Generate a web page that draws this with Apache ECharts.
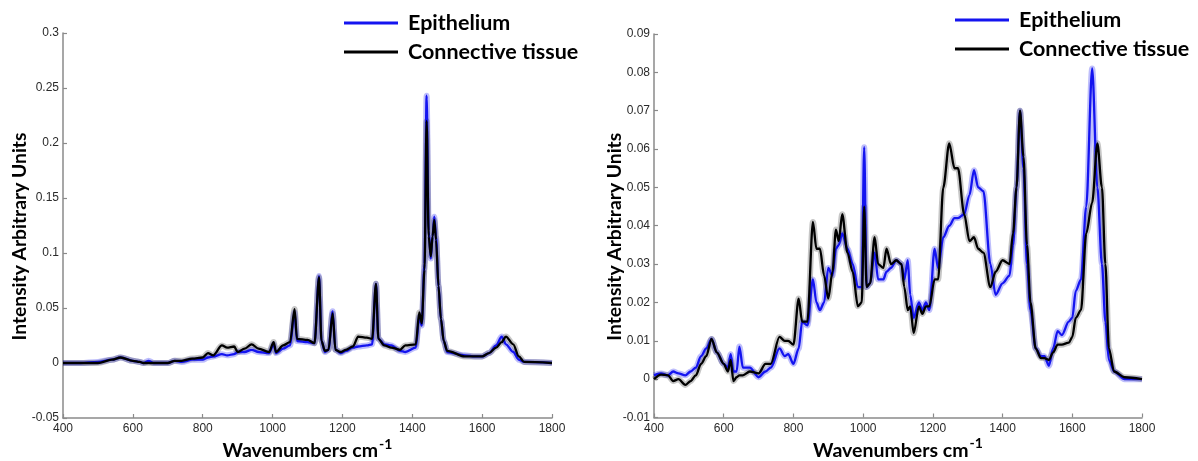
<!DOCTYPE html>
<html>
<head>
<meta charset="utf-8">
<script src="https://cdn.jsdelivr.net/npm/echarts@6/dist/echarts.min.js"></script>
<style>
html,body{margin:0;padding:0;background:#fff;}
#chart{width:1198px;height:461px;}
</style>
</head>
<body>
<div id="chart"></div>
<script>
// ---------- Data (left panel) ----------
var waveL = [400,450,500,540,565,600,620,630,645,660,700,720,740,770,800,815,830,855,870,890,900,920,940,960,990,1003,1010,1030,1050,1063,1070,1100,1120,1133,1140,1150,1160,1172,1180,1195,1210,1230,1245,1270,1285,1296,1303,1320,1340,1365,1380,1410,1420,1427,1435,1441,1447,1453,1458,1463,1468,1475,1482,1490,1500,1550,1580,1600,1620,1640,1656,1668,1689,1705,1720,1800];
var epiL  = [0,0,0.001,0.003,0.005,0.002,0.001,0,0.002,0,0,0.002,0.001,0.003,0.003,0.005,0.006,0.008,0.007,0.008,0.010,0.010,0.012,0.010,0.009,0.017,0.009,0.013,0.016,0.046,0.020,0.019,0.018,0.079,0.020,0.010,0.012,0.047,0.012,0.009,0.011,0.014,0.015,0.016,0.017,0.072,0.022,0.017,0.016,0.011,0.010,0.014,0.042,0.034,0.090,0.243,0.120,0.095,0.115,0.133,0.115,0.070,0.040,0.020,0.010,0.007,0.006,0.006,0.009,0.016,0.024,0.017,0.010,0.003,0.001,0];
var connL = [0,0,0,0.003,0.005,0.002,0.001,0,0,0,0,0.002,0.002,0.004,0.005,0.009,0.007,0.016,0.014,0.015,0.010,0.013,0.017,0.013,0.010,0.019,0.010,0.016,0.019,0.049,0.022,0.021,0.018,0.078,0.020,0.011,0.012,0.045,0.012,0.010,0.012,0.015,0.024,0.023,0.022,0.072,0.022,0.016,0.014,0.012,0.016,0.017,0.046,0.036,0.085,0.220,0.115,0.097,0.115,0.130,0.112,0.070,0.040,0.020,0.011,0.006,0.006,0.006,0.009,0.014,0.019,0.024,0.017,0.006,0.001,0];

// ---------- Data (right panel) ----------
var waveR = [400,420,440,455,470,490,505,520,535,550,565,580,600,612,620,628,637,645,655,675,700,720,735,760,775,785,800,815,825,840,856,866,876,888,900,912,922,930,940,955,970,985,996,1003,1010,1020,1033,1043,1058,1067,1080,1095,1110,1118,1128,1135,1145,1160,1170,1180,1190,1205,1215,1230,1247,1262,1272,1290,1305,1318,1330,1345,1365,1380,1400,1420,1430,1440,1450,1460,1470,1480,1495,1510,1520,1533,1545,1558,1570,1590,1600,1610,1625,1640,1657,1672,1685,1695,1705,1720,1750,1800];
var epiR  = [0.001,0.0015,0.001,0.002,0.0015,0.001,0.002,0.003,0.006,0.008,0.0105,0.007,0.004,0.003,0.0065,0.002,0.002,0.0085,0.003,0.003,0.0005,0.002,0.003,0.008,0.006,0.0065,0.004,0.008,0.015,0.014,0.026,0.020,0.018,0.020,0.029,0.027,0.034,0.035,0.038,0.034,0.030,0.024,0.024,0.0605,0.024,0.025,0.033,0.026,0.026,0.028,0.029,0.031,0.030,0.026,0.031,0.022,0.016,0.020,0.018,0.020,0.018,0.034,0.029,0.037,0.040,0.042,0.042,0.043,0.048,0.0545,0.050,0.049,0.030,0.022,0.025,0.027,0.035,0.050,0.070,0.055,0.030,0.018,0.008,0.006,0.006,0.0035,0.008,0.0125,0.0115,0.015,0.016,0.023,0.026,0.045,0.081,0.050,0.030,0.015,0.005,0.002,0,0];
var connR = [0,0.0012,0.001,-0.0005,0,-0.0015,-0.0005,0.001,0.004,0.006,0.0105,0.007,0.004,0.002,0.005,-0.0005,0.0005,0.001,0.001,0.002,0.0015,0.004,0.004,0.011,0.010,0.010,0.009,0.021,0.015,0.015,0.041,0.034,0.034,0.027,0.021,0.028,0.039,0.036,0.043,0.033,0.028,0.019,0.020,0.045,0.024,0.025,0.037,0.030,0.029,0.034,0.030,0.031,0.030,0.024,0.018,0.019,0.012,0.019,0.017,0.019,0.019,0.026,0.026,0.050,0.0615,0.055,0.055,0.043,0.036,0.037,0.034,0.033,0.024,0.028,0.031,0.030,0.038,0.050,0.070,0.058,0.035,0.020,0.008,0.0055,0.0055,0.005,0.007,0.009,0.009,0.0095,0.011,0.016,0.018,0.038,0.046,0.0615,0.050,0.030,0.008,0.002,0.0005,0];

var seriesNames = ['Epithelium', 'Connective tissue'];
var xTicks = {min: 400, max: 1800, interval: 200};
var yTicksL = {min: -0.05, max: 0.3, interval: 0.05};
var yTicksR = {min: -0.01, max: 0.09, interval: 0.01};

// ---------- Build ----------
function pairs(xs, ys){ return xs.map(function(x,i){ return [x, ys[i]]; }); }

var BLUE = '#1414f0', BLACK = '#000000';
var axisColor = '#8a8a8a';
var tickFont = {color:'#2a2a2a', fontSize:12, fontFamily:'Liberation Sans, Arial, sans-serif'};
var titleFont = 'Lato, Calibri, sans-serif';

function xAxisCfg(idx){
  return {
    type:'value', gridIndex: idx, min:xTicks.min, max:xTicks.max, interval:xTicks.interval,
    axisLine:{show:true, onZero:false, lineStyle:{color:axisColor, width:1.5}},
    axisTick:{show:true, inside:true, length:4, lineStyle:{color:axisColor, width:1.2}},
    splitLine:{show:false},
    axisLabel:Object.assign({margin:5, formatter:function(v){ return String(v); }}, tickFont),
    name:'{a|Wavenumbers cm}{b|-1}', nameLocation:'middle', nameGap:19, nameMoveOverlap:false,
    nameTextStyle:{rich:{
      a:{fontFamily:titleFont, fontWeight:'bold', fontSize:19.5, color:'#000'},
      b:{fontFamily:titleFont, fontWeight:'bold', fontSize:14, color:'#000', padding:[0,0,14,1]}
    }}
  };
}
function yAxisCfg(idx, t, gap){
  return {
    type:'value', gridIndex: idx, min:t.min, max:t.max, interval:t.interval,
    axisLine:{show:true, onZero:false, lineStyle:{color:axisColor, width:1.5}},
    axisTick:{show:true, inside:true, length:4, lineStyle:{color:axisColor, width:1.2}},
    splitLine:{show:false},
    axisLabel:Object.assign({margin:4, formatter:function(v){ return String(+v.toFixed(4)); }}, tickFont),
    name:'Intensity Arbitrary Units', nameLocation:'middle', nameGap:gap, nameRotate:90, nameMoveOverlap:false,
    nameTextStyle:{fontFamily:titleFont, fontWeight:'bold', fontSize:19.3, color:'#000', padding:[0,22,0,0]}
  };
}
function bandSeries(idx, name, xs, ys, color){
  return {
    name: name + ' band', type:'line', xAxisIndex:idx, yAxisIndex:idx,
    data: pairs(xs, ys), symbol:'none', silent:true, z:1, smooth:0.3, smoothMonotone:'x',
    lineStyle:{color:color, width:6, opacity:0.28}
  };
}
function mainSeries(idx, name, xs, ys, color, z){
  return {
    name: name, type:'line', xAxisIndex:idx, yAxisIndex:idx,
    data: pairs(xs, ys), symbol:'none', z:z, smooth:0.3, smoothMonotone:'x',
    itemStyle:{color:color},
    lineStyle:{color:color, width:2.3}
  };
}
function legendCfg(left, top){
  return {
    data: seriesNames, orient:'vertical', left:left, top:top,
    icon:'rect', itemWidth:54, itemHeight:3, itemGap:5,
    textStyle:{fontFamily:titleFont, fontWeight:'bold', fontSize:21.5, color:'#000', lineHeight:24, padding:[0,0,0,5]},
    selectedMode:false
  };
}

var option = {
  animation:false,
  backgroundColor:'#fff',
  grid:[
    {left:63, top:33, width:489, height:385, containLabel:false, outerBoundsMode:'none'},
    {left:654, top:34, width:488, height:383.5, containLabel:false, outerBoundsMode:'none'}
  ],
  xAxis:[xAxisCfg(0), xAxisCfg(1)],
  yAxis:[yAxisCfg(0, yTicksL, 34), yAxisCfg(1, yTicksR, 30)],
  legend:[legendCfg(339, 6), legendCfg(950, 3)],
  series:[
    bandSeries(0, seriesNames[0], waveL, epiL, BLUE),
    bandSeries(0, seriesNames[1], waveL, connL, '#333'),
    mainSeries(0, seriesNames[0], waveL, epiL, BLUE, 2),
    mainSeries(0, seriesNames[1], waveL, connL, BLACK, 3),
    bandSeries(1, seriesNames[0], waveR, epiR, BLUE),
    bandSeries(1, seriesNames[1], waveR, connR, '#333'),
    mainSeries(1, seriesNames[0], waveR, epiR, BLUE, 2),
    mainSeries(1, seriesNames[1], waveR, connR, BLACK, 3)
  ]
};
var chart = echarts.init(document.getElementById('chart'), null, {renderer:'canvas'});
chart.setOption(option);
</script>
</body>
</html>
